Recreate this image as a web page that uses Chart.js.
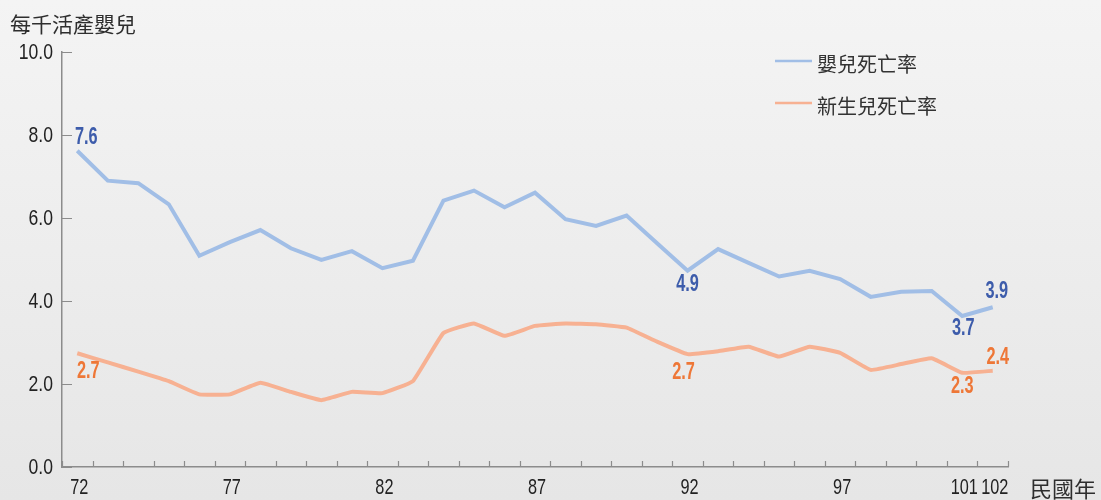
<!DOCTYPE html>
<html>
<head>
<meta charset="utf-8">
<script src="https://cdn.jsdelivr.net/npm/chart.js@4.4.1/dist/chart.umd.min.js"></script>
<style>
    html, body { margin: 0; padding: 0; }
    body { width: 1101px; height: 500px; background: linear-gradient(#f4f4f4, #e6e6e6); overflow: hidden; }
    #wrap { width: 1101px; height: 500px; position: relative; }
</style>
</head>
<body>
<div id="wrap"><canvas id="rateChart"></canvas></div>
<script>
// 民國 72 ~ 102 年
const years = ["72", "73", "74", "75", "76", "77", "78", "79", "80", "81", "82", "83", "84", "85", "86", "87",
    "88", "89", "90", "91", "92", "93", "94", "95", "96", "97", "98", "99", "100", "101", "102"];
const shownYears = ["72", "77", "82", "87", "92", "97", "101", "102"];
const yTickLabels = ["0.0", "2.0", "4.0", "6.0", "8.0", "10.0"];

// 嬰兒死亡率 (每千活產嬰兒)
const infantRate = [7.62, 6.90, 6.84, 6.33, 5.09, 5.42, 5.71, 5.27, 4.99, 5.20, 4.79, 4.97, 6.42, 6.66, 6.26, 6.61,
    5.97, 5.81, 6.06, 5.39, 4.73, 5.25, 4.92, 4.59, 4.73, 4.53, 4.10, 4.22, 4.24, 3.64, 3.85];
// 新生兒死亡率
const neonatalRate = [2.74, 2.52, 2.30, 2.07, 1.75, 1.75, 2.03, 1.81, 1.61, 1.81, 1.78, 2.07, 3.23, 3.46, 3.16, 3.40,
    3.46, 3.44, 3.36, 3.02, 2.72, 2.79, 2.90, 2.66, 2.90, 2.75, 2.34, 2.48, 2.62, 2.27, 2.32];

const infantNoteIdx = [0, 20, 29, 30];
const infantNoteText = ["7.6", "4.9", "3.7", "3.9"];
const neonatalNoteIdx = [0, 20, 29, 30];
const neonatalNoteText = ["2.7", "2.7", "2.3", "2.4"];

const blueLine = "#a1bee6";
const orangeLine = "#f7b192";
const blueText = "#3d5cab";
const orangeText = "#ee7737";
const axisGray = "#8c8c8c";
const numFont = "'Liberation Sans', Arial, sans-serif";
const cjkFont = "'Noto Sans CJK TC', 'Noto Sans CJK SC', sans-serif";

// narrow text: the original uses a condensed face, so squeeze a regular one
function narrowText(ctx, text, x, y, sx) {
    ctx.save();
    ctx.translate(x, y);
    ctx.scale(sx, 1);
    ctx.fillText(text, 0, 0);
    ctx.restore();
}

// inward tick marks and the axis numbers
const axisDecor = {
    id: "axisDecor",
    afterDraw(chart) {
        const ctx = chart.ctx;
        const x = chart.scales.x, y = chart.scales.y;
        const area = chart.chartArea;
        ctx.save();
        ctx.strokeStyle = axisGray;
        ctx.lineWidth = 1.2;
        ctx.beginPath();
        for (let i = 0; i <= years.length; i++) {
            let px = Math.round(x.getPixelForValue(i - 0.5)) + 0.5;
            ctx.moveTo(px, area.bottom);
            ctx.lineTo(px, area.bottom - 6);
        }
        y.ticks.forEach(t => {
            let py = Math.round(y.getPixelForValue(t.value)) + 0.5;
            ctx.moveTo(area.left, py);
            ctx.lineTo(area.left + 10, py);
        });
        ctx.stroke();

        ctx.fillStyle = "#222";
        ctx.font = "22px " + numFont;
        ctx.textBaseline = "middle";
        ctx.textAlign = "right";
        y.ticks.forEach((t, i) => {
            narrowText(ctx, yTickLabels[i], area.left - 9, y.getPixelForValue(t.value) + 1, 0.8);
        });
        ctx.textAlign = "center";
        years.forEach((yr, i) => {
            if (shownYears.includes(yr)) {
                narrowText(ctx, yr, x.getPixelForValue(i) + 2, area.bottom + 21, 0.74);
            }
        });
        ctx.restore();
    }
};

// value notes, unit text and legend
const notes = {
    id: "notes",
    afterDatasetsDraw(chart) {
        const ctx = chart.ctx;
        const blueOffsets = [[9, -14], [0, 13], [1, 11], [4, -17]];
        const orangeOffsets = [[11, 17], [-4, 17], [0, 13], [5, -14]];
        ctx.save();
        ctx.textAlign = "center";
        ctx.textBaseline = "middle";
        ctx.font = "bold 24px " + numFont;
        const put = (dsIndex, idx, texts, offsets, color) => {
            const pts = chart.getDatasetMeta(dsIndex).data;
            ctx.fillStyle = color;
            idx.forEach((k, n) => {
                const p = pts[k];
                narrowText(ctx, texts[n], p.x + offsets[n][0], p.y + offsets[n][1] + 1, 0.68);
            });
        };
        put(0, infantNoteIdx, infantNoteText, blueOffsets, blueText);
        put(1, neonatalNoteIdx, neonatalNoteText, orangeOffsets, orangeText);

        // unit labels
        ctx.fillStyle = "#2e2e2e";
        ctx.textAlign = "left";
        ctx.font = "21px " + cjkFont;
        ctx.fillText("每千活產嬰兒", 10, 24);
        ctx.font = "22px " + cjkFont;
        ctx.fillText("民國年", 1030, 489);

        // legend
        ctx.font = "20px " + cjkFont;
        chart.data.datasets.forEach((ds, i) => {
            const ly = 61 + i * 42;
            ctx.strokeStyle = ds.borderColor;
            ctx.lineWidth = 2.5;
            ctx.beginPath();
            ctx.moveTo(775, ly);
            ctx.lineTo(812, ly);
            ctx.stroke();
            ctx.fillStyle = "#333";
            ctx.fillText(ds.label, 817, ly + 3);
        });
        ctx.restore();
    }
};

new Chart(document.getElementById("rateChart"), {
    type: "line",
    data: {
        labels: years,
        datasets: [{
            label: "嬰兒死亡率",
            data: infantRate,
            borderColor: blueLine,
            borderWidth: 4,
            pointRadius: 0,
            tension: 0
        }, {
            label: "新生兒死亡率",
            data: neonatalRate,
            borderColor: orangeLine,
            borderWidth: 4,
            pointRadius: 0,
            tension: 0.1
        }]
    },
    options: {
        responsive: true,
        maintainAspectRatio: false,
        animation: false,
        layout: { padding: { left: 10, top: 52, right: 93, bottom: 0 } },
        plugins: {
            legend: { display: false },
            tooltip: { enabled: false }
        },
        scales: {
            x: {
                type: "category",
                offset: true,
                grid: { display: false, drawTicks: false },
                border: { display: true, color: axisGray, width: 1.5 },
                ticks: { display: false },
                afterFit: s => { s.height = 33; }
            },
            y: {
                min: 0,
                max: 10,
                grid: { display: false, drawTicks: false },
                border: { display: true, color: axisGray, width: 1.5 },
                ticks: { display: false, stepSize: 2 },
                afterFit: s => { s.width = 52; }
            }
        }
    },
    plugins: [axisDecor, notes]
});
</script>
</body>
</html>
